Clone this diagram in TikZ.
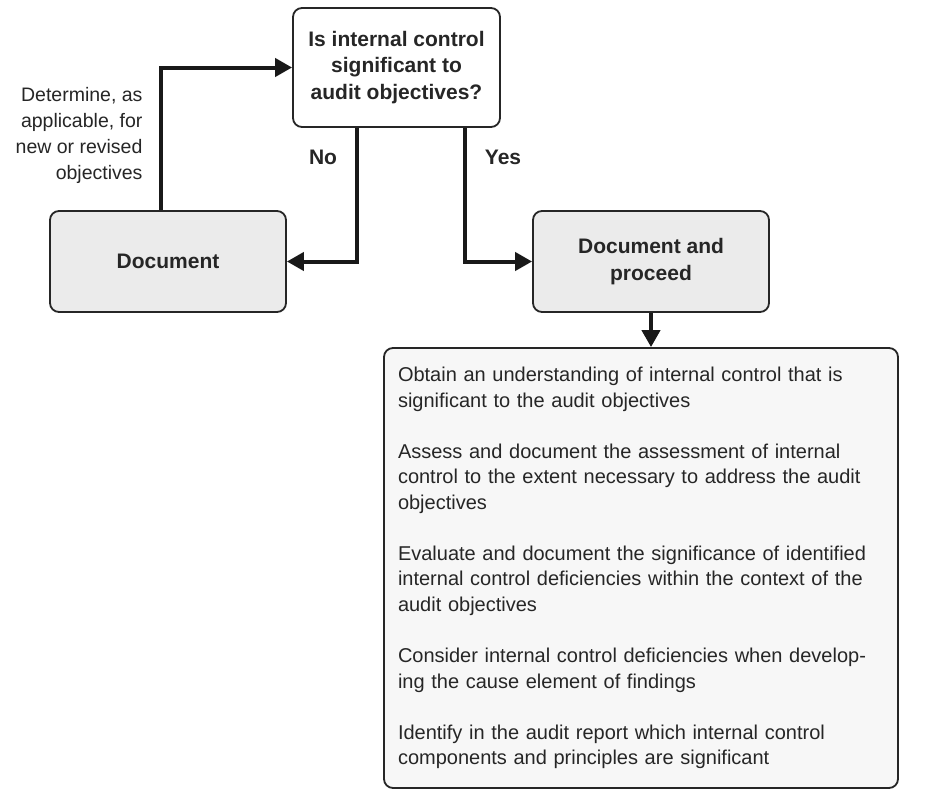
\documentclass[tikz,border=0pt]{standalone}
\usepackage{fontspec}
\setmainfont{Liberation Sans}
\usetikzlibrary{arrows.meta}

\begin{document}
\begin{tikzpicture}[x=1pt, y=-1pt,
  every node/.style = {font=\fontsize{20}{26}\selectfont, text=black!85},
  box/.style        = {draw=black!85, line width=1.8pt, rounded corners=9pt,
                       align=center, font=\fontsize{21}{26.5}\selectfont\bfseries},
  grey box/.style   = {box, fill=black!8, minimum width=236pt, minimum height=101pt},
  flow/.style       = {draw=black!90, line width=4pt,
                       -{Triangle[length=17pt, width=18pt]}},
  ]
  \useasboundingbox[fill=white] (0,0) rectangle (928,792);

  % boxes
  \node[box, fill=white, minimum width=207pt, minimum height=119pt] (question)
    at (396.5,67.5) {Is internal control\\significant to\\audit objectives?};
  \node[grey box] (Document) at (168,261.5) {Document};
  \node[grey box] (proceed) at (651,261.5) {Document and\\proceed};
  \node[box, fill=black!3, font=\fontsize{20}{25.5}\selectfont, align=left,
        text width=486pt, inner xsep=14pt, minimum height=440pt] (steps) at (641,568)
    {Obtain an understanding of internal control that is\\
     significant to the audit objectives\\[25.6pt]
     Assess and document the assessment of internal\\
     control to the extent necessary to address the audit\\
     objectives\\[25.6pt]
     Evaluate and document the significance of identified\\
     internal control deficiencies within the context of the\\
     audit objectives\\[25.6pt]
     Consider internal control deficiencies when develop-\\
     ing the cause element of findings\\[25.6pt]
     Identify in the audit report which internal control\\
     components and principles are significant};

  % labels
  \node[anchor=east, align=right, font=\fontsize{19.5}{26}\selectfont] (determine)
    at (146,135) {Determine, as\\applicable, for\\new or revised\\objectives};
  \node[font=\fontsize{21}{26}\selectfont\bfseries] (no) at (323,157) {No};
  \node[font=\fontsize{21}{26}\selectfont\bfseries] (yes) at (503,157) {Yes};

  % connectors
  \draw[flow] ([xshift=-7pt]Document.north) |- (question.west);
  \draw[flow] ([xshift=-39.5pt]question.south) |- (Document.east);
  \draw[flow] ([xshift=68.5pt]question.south) |- (proceed.west);
  \draw[flow] (proceed.south) -- (proceed.south |- steps.north);
\end{tikzpicture}
\end{document}
